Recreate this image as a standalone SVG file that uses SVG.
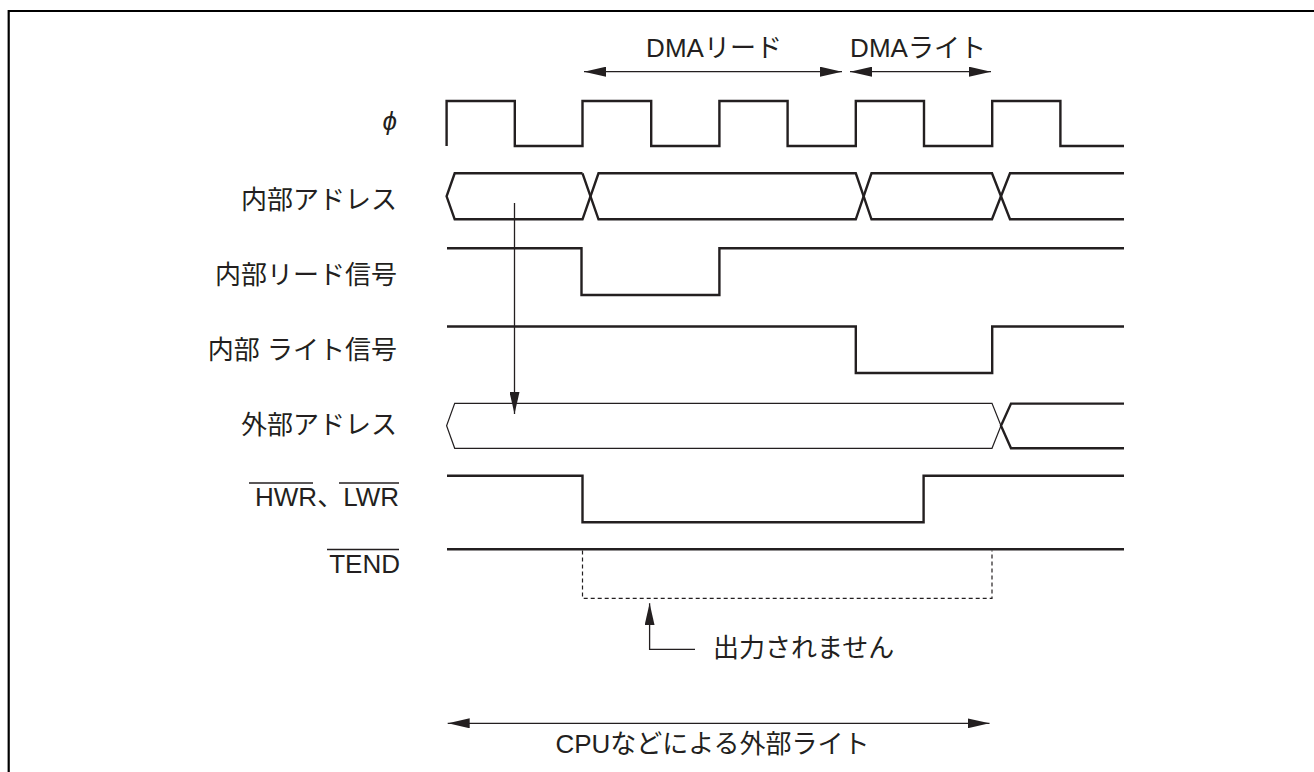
<svg xmlns="http://www.w3.org/2000/svg" width="1314" height="772" viewBox="0 0 1314 772">
<style>
.bg{fill:#ffffff}
.frame{fill:none;stroke:#000;stroke-width:2.2}
.sig{fill:none;stroke:#231f20;stroke-width:2.4;stroke-linejoin:miter}
.thin{fill:none;stroke:#231f20;stroke-width:1.2}
.dash{fill:none;stroke:#231f20;stroke-width:1.2;stroke-dasharray:4 3}
.arr{fill:none;stroke:#231f20;stroke-width:1.3}
.ol{stroke:#231f20;stroke-width:1.3}
text{font-family:"Liberation Sans","Noto Sans CJK JP",sans-serif;font-size:26px;fill:#231f20}
.lbl{text-anchor:end}
.mid{text-anchor:middle}
</style>
<defs>
<marker id="ah" markerUnits="userSpaceOnUse" markerWidth="22" markerHeight="10" refX="22" refY="5" orient="auto-start-reverse" viewBox="0 0 22 10">
<path d="M0,0 L22,5 L0,10 Z" fill="#231f20"/>
</marker>
</defs>
<rect class="bg" x="0" y="0" width="1314" height="772"/>
<path class="frame" d="M8.7,772 V11 H1314"/>

<g id="labels">
<text id="lbl-phi" class="lbl" x="397" y="130" font-family="DejaVu Sans, Liberation Sans, sans-serif" font-style="italic" font-size="25">ϕ</text>
<text id="lbl-iaddr" class="lbl" x="397" y="209">内部アドレス</text>
<text id="lbl-iread" class="lbl" x="397" y="283.5">内部リード信号</text>
<text id="lbl-iwrite" class="lbl" x="397" y="359">内部 ライト信号</text>
<text id="lbl-eaddr" class="lbl" x="397" y="434">外部アドレス</text>
<text id="lbl-hwr" class="lbl" x="399" y="506">HWR、LWR</text>
<line class="ol" x1="249" y1="483" x2="313" y2="483"/>
<line class="ol" x1="339" y1="483" x2="399" y2="483"/>
<text id="lbl-tend" class="lbl" x="400" y="573">TEND</text>
<line class="ol" x1="327" y1="549.5" x2="399" y2="549.5"/>
</g>

<g id="sig-phi"><path class="sig" d="M446.6,146 V101 H514.8 V146 H582.5 V101 H651.2 V146 H719.4 V101 H787.6 V146 H855.8 V101 H924 V146 H992.2 V101 H1060.4 V146 H1124"/></g>
<g id="sig-iaddr">
<path class="sig" d="M582.5,173.3 H454.7 L446.6,196.3 L454.7,219.3 H582.5 L598.5,173.3 H855.8 L871.5,219.3 H992 L1010,173.3 H1124"/>
<path class="sig" d="M582.5,173.3 L598.5,219.3 H855.8 L871.5,173.3 H992 L1010,219.3 H1124"/>
</g>
<g id="sig-iread"><path class="sig" d="M447,248.3 H581.5 V295 H719.4 V248.3 H1124"/></g>
<g id="sig-iwrite"><path class="sig" d="M447,326.5 H855.8 V373 H992.2 V326.5 H1124"/></g>
<g id="sig-eaddr">
<path class="thin" d="M1001,425.8 L992,403.3 H454.7 L446.6,425.8 L454.7,448.3 H992 Z"/>
<path class="sig" d="M1124,403.6 H1011 L1001,425.8 L1011,448.3 H1124"/>
</g>
<g id="sig-hwr"><path class="sig" d="M447,475.7 H582.5 V522.3 H923.6 V475.7 H1124"/></g>
<g id="sig-tend">
<path class="sig" d="M447,549.3 H1124"/>
<path class="dash" d="M582.5,550.5 V598.3 H992 V550.5"/>
</g>

<g id="connectors">
<line class="arr" x1="584" y1="71.7" x2="842" y2="71.7" marker-start="url(#ah)" marker-end="url(#ah)"/>
<line class="arr" x1="850" y1="71.7" x2="991" y2="71.7" marker-start="url(#ah)" marker-end="url(#ah)"/>
<line class="arr" x1="514.5" y1="203" x2="514.5" y2="414" marker-end="url(#ah)"/>
<path class="arr" d="M695,649.3 H649.6 V603.3" marker-end="url(#ah)"/>
<line class="arr" x1="447.7" y1="723.3" x2="989.5" y2="723.3" marker-start="url(#ah)" marker-end="url(#ah)"/>
</g>

<g id="annotations">
<text id="t-dmaread" class="mid" x="714" y="56.5">DMAリード</text>
<text id="t-dmawrite" class="mid" x="918" y="56.5">DMAライト</text>
<text id="t-noout" x="713" y="656.5">出力されません</text>
<text id="t-cpu" class="mid" x="712.5" y="753">CPUなどによる外部ライト</text>
</g>
</svg>
